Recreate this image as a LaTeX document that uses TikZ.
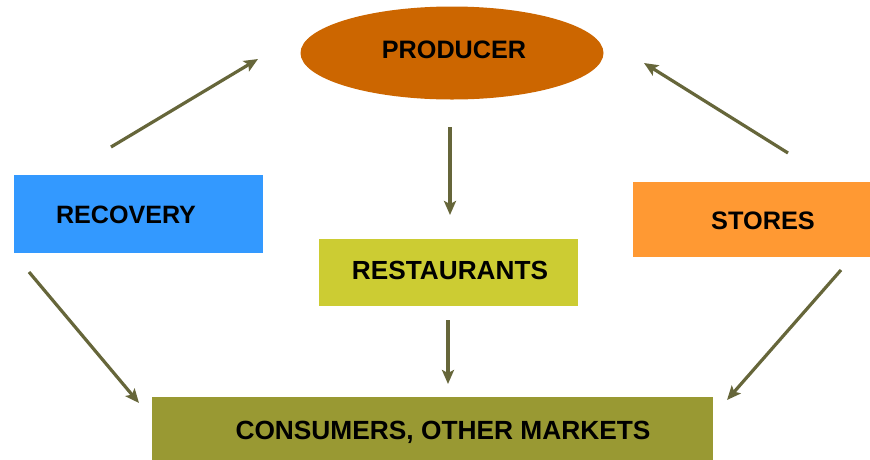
\documentclass[tikz,border=0pt]{standalone}
\usepackage{fontspec}
\setmainfont{Liberation Sans}
\usetikzlibrary{arrows.meta,shapes.geometric}
\definecolor{prodfill}{HTML}{CC6600}
\definecolor{recfill}{HTML}{3399FF}
\definecolor{storefill}{HTML}{FF9933}
\definecolor{restfill}{HTML}{CCCC33}
\definecolor{consfill}{HTML}{999933}
\definecolor{flow}{HTML}{66663A}
\tikzset{
  box/.style={rectangle, inner sep=0pt},
  label25/.style={font=\bfseries\fontsize{#1}{30}\selectfont, text=black, inner sep=0pt},
  flowarrow/.style={draw=flow, line width=3.2pt, -{Stealth[length=14pt, width=12pt, inset=3pt]}},
}
\begin{document}
\begin{tikzpicture}[x=1pt, y=-1pt]
\useasboundingbox (0,0) rectangle (870,459);
\clip (0,0) rectangle (870,459);
\fill[white] (0,0) rectangle (870,459);

% stages of the flow
\node[box, ellipse, fill=prodfill, minimum width=303pt, minimum height=93pt] (prod) at (452,53) {};
\node[label25=25.2] (prodtext) at (454,50) {PRODUCER};

\node[box, fill=recfill, minimum width=249pt, minimum height=78pt] (rec) at (138.5,214) {};
\node[label25=25.1] (rectext) at (126,215) {RECOVERY};

\node[box, fill=storefill, minimum width=260pt, minimum height=75pt] (store) at (763,219.5) {};
\node[label25=25.3] (storetext) at (763,221) {STORES};

\node[box, fill=restfill, minimum width=259pt, minimum height=67pt] (rest) at (448.5,272.5) {};
\node[label25=26.2] (resttext) at (450,270) {RESTAURANTS};

\node[box, fill=consfill, minimum width=561pt, minimum height=72pt] (cons) at (432.5,433) {};
\node[label25=26.3] (constext) at (443,432) {CONSUMERS, OTHER MARKETS};

% arrow end points
\coordinate (recup)    at (111,147);
\coordinate (prodleft) at (258,59);
\coordinate (storeup)  at (788,153);
\coordinate (prodright) at (644,63);
\coordinate (prodlow)  at (450,127);
\coordinate (resttop)  at (450,215);
\coordinate (restlow)  at (448,320);
\coordinate (constop)  at (448,384);
\coordinate (reclow)   at (29,272);
\coordinate (consleft) at (139,403);
\coordinate (storelow) at (841,270);
\coordinate (consright) at (727,400);

% flows between the stages
\draw[flowarrow] (recup) -- (prodleft);
\draw[flowarrow] (storeup) -- (prodright);
\draw[flowarrow] (prodlow) -- (resttop);
\draw[flowarrow] (restlow) -- (constop);
\draw[flowarrow] (reclow) -- (consleft);
\draw[flowarrow] (storelow) -- (consright);
\end{tikzpicture}
\end{document}
